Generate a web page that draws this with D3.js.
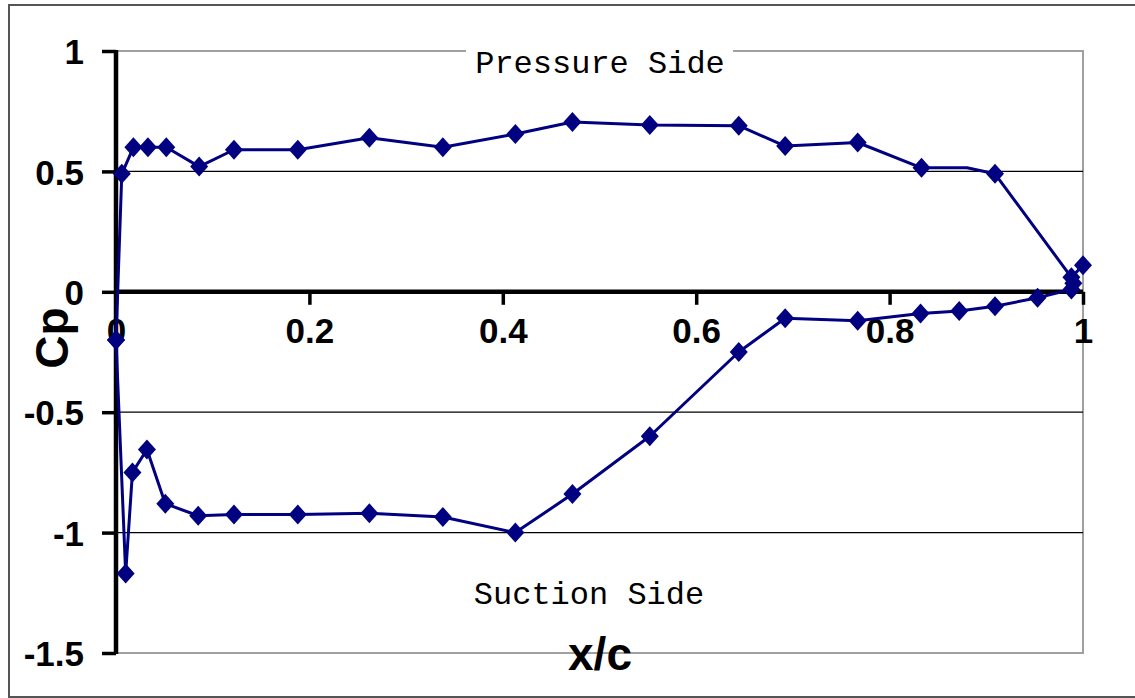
<!DOCTYPE html>
<html>
<head>
<meta charset="utf-8">
<script src="https://cdn.jsdelivr.net/npm/d3@7"></script>
<style>
  body { margin: 0; background: #fff; }
  svg { display: block; }
</style>
</head>
<body>
<div id="chart"></div>
<script>
// x/c positions and Cp values
const pressureX  = [0, 0.006, 0.018, 0.033, 0.052, 0.086, 0.122, 0.188, 0.262, 0.338, 0.413, 0.472, 0.552, 0.644, 0.692, 0.767, 0.833, 0.880, 0.909, 0.988, 1.0];
const pressureCp = [-0.2, 0.49, 0.60, 0.60, 0.60, 0.52, 0.59, 0.59, 0.64, 0.60, 0.655, 0.705, 0.693, 0.69, 0.605, 0.62, 0.515, 0.515, 0.49, 0.06, 0.11];
// the point near x/c=0.88 has no visible marker
const pressureMark = [1, 1, 1, 1, 1, 1, 1, 1, 1, 1, 1, 1, 1, 1, 1, 1, 1, 0, 1, 1, 1];

const suctionX  = [0, 0.010, 0.017, 0.032, 0.051, 0.085, 0.122, 0.188, 0.262, 0.338, 0.413, 0.472, 0.552, 0.644, 0.692, 0.767, 0.832, 0.872, 0.909, 0.953, 0.988, 0.990];
const suctionCp = [-0.2, -1.17, -0.75, -0.655, -0.88, -0.93, -0.925, -0.925, -0.92, -0.935, -1.0, -0.84, -0.60, -0.25, -0.11, -0.12, -0.09, -0.08, -0.06, -0.025, 0.01, 0.035];

const xTicks = [0, 0.2, 0.4, 0.6, 0.8, 1];
const yTicks = [1, 0.5, 0, -0.5, -1, -1.5];
const gridValues = [0.5, -0.5, -1];

const width = 1135, height = 698;
const plotLeft = 116, plotRight = 1083, plotTop = 51, plotBottom = 653;
const navy = "#000080";
const tickFont = "bold 35px 'Liberation Sans', Arial, sans-serif";

const x = d3.scaleLinear().domain([0, 1]).range([plotLeft, plotRight]);
const y = d3.scaleLinear().domain([-1.5, 1]).range([plotBottom, plotTop]);

const svg = d3.select("#chart").append("svg")
    .attr("width", width)
    .attr("height", height);

// outer frame
svg.append("rect")
    .attr("x", 9).attr("y", 5)
    .attr("width", 1140).attr("height", 692)
    .attr("fill", "#fff")
    .attr("stroke", "#555")
    .attr("stroke-width", 2);

// plot area border (grey)
svg.append("rect")
    .attr("x", plotLeft).attr("y", plotTop)
    .attr("width", plotRight - plotLeft).attr("height", plotBottom - plotTop)
    .attr("fill", "none")
    .attr("stroke", "#a0a0a0")
    .attr("stroke-width", 2);

// grid lines
svg.append("g")
    .selectAll("line")
    .data(gridValues)
    .join("line")
    .attr("x1", plotLeft).attr("x2", plotRight)
    .attr("y1", d => y(d)).attr("y2", d => y(d))
    .attr("stroke", "#000")
    .attr("stroke-width", 1.2);

// series
const pressure = pressureX.map((v, i) => ({x: v, y: pressureCp[i], mark: pressureMark[i]}));
const suction = suctionX.map((v, i) => ({x: v, y: suctionCp[i], mark: 1}));

const line = d3.line().x(d => x(d.x)).y(d => y(d.y));

// y axis (plain hyphen for negatives, like the original)
const yAxis = svg.append("g")
    .attr("transform", `translate(${plotLeft},0)`)
    .call(d3.axisLeft(y).tickValues(yTicks).tickSize(14).tickFormat(d => String(d)));
yAxis.select(".domain").remove();
yAxis.selectAll(".tick line").attr("stroke", "#000").attr("stroke-width", 3.5);
yAxis.selectAll(".tick text")
    .attr("x", -32)
    .attr("dy", "0.36em")
    .style("font", tickFont)
    .attr("fill", "#000");
yAxis.append("line")
    .attr("x1", 0).attr("x2", 0)
    .attr("y1", plotTop - 1).attr("y2", plotBottom + 1)
    .attr("stroke", "#000")
    .attr("stroke-width", 4.5);

// x axis at Cp = 0
const xAxis = svg.append("g")
    .attr("transform", `translate(0,${y(0)})`)
    .call(d3.axisBottom(x).tickValues(xTicks).tickSize(13).tickFormat(d => String(d)));
xAxis.select(".domain").remove();
xAxis.selectAll(".tick line").attr("stroke", "#000").attr("stroke-width", 3.5);
xAxis.selectAll(".tick text")
    .attr("y", 51)
    .attr("dy", 0)
    .style("font", tickFont)
    .attr("fill", "#000");
xAxis.append("line")
    .attr("x1", plotLeft).attr("x2", plotRight)
    .attr("y1", 0).attr("y2", 0)
    .attr("stroke", "#000")
    .attr("stroke-width", 4.5);

const diamond = "M0,-10L9,0L0,10L-9,0Z";

[pressure, suction].forEach(series => {
    svg.append("path")
        .datum(series)
        .attr("fill", "none")
        .attr("stroke", navy)
        .attr("stroke-width", 3)
        .attr("stroke-linejoin", "round")
        .attr("d", line);

    svg.append("g")
        .selectAll("path")
        .data(series.filter(d => d.mark))
        .join("path")
        .attr("transform", d => `translate(${x(d.x)},${y(d.y)})`)
        .attr("d", diamond)
        .attr("fill", navy);
});

// text boxes
const pLabel = svg.append("g");
pLabel.append("rect")
    .attr("x", 466).attr("y", 44)
    .attr("width", 267).attr("height", 36)
    .attr("fill", "#fff");
pLabel.append("text")
    .attr("x", 600).attr("y", 73)
    .attr("text-anchor", "middle")
    .style("font", "32px 'Liberation Mono', 'Courier New', monospace")
    .attr("fill", "#000")
    .text("Pressure Side");

svg.append("text")
    .attr("x", 589).attr("y", 604)
    .attr("text-anchor", "middle")
    .style("font", "32px 'Liberation Mono', 'Courier New', monospace")
    .attr("fill", "#000")
    .text("Suction Side");

// axis titles
svg.append("text")
    .attr("x", 600).attr("y", 670)
    .attr("text-anchor", "middle")
    .style("font", "bold 46px 'Liberation Sans', Arial, sans-serif")
    .attr("fill", "#000")
    .text("x/c");

svg.append("text")
    .attr("transform", "translate(68,338) rotate(-90)")
    .attr("text-anchor", "middle")
    .style("font", "bold 46px 'Liberation Sans', Arial, sans-serif")
    .attr("fill", "#000")
    .text("Cp");
</script>
</body>
</html>
